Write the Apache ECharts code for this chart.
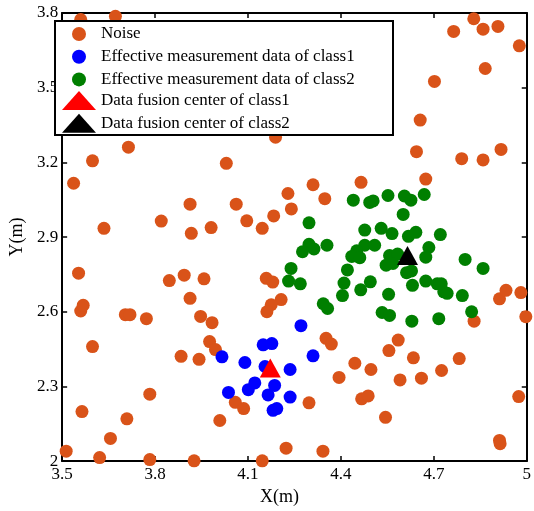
<!DOCTYPE html>
<html>
<head>
<meta charset="utf-8">
<script src="https://cdn.jsdelivr.net/npm/echarts@6/dist/echarts.min.js"></script>
<style>html,body{margin:0;padding:0;background:#fff;}#c{width:534px;height:511px;}</style>
</head>
<body>
<div id="c"></div>
<script>
const xTicks = [3.5, 3.8, 4.1, 4.4, 4.7, 5];
const yTicks = [2, 2.3, 2.6, 2.9, 3.2, 3.5, 3.8];
const seriesNames = ['Noise', 'Effective measurement data of class1', 'Effective measurement data of class2', 'Data fusion center of class1', 'Data fusion center of class2'];

const noise = [
  [3.560,3.774],[3.672,3.787],[4.764,3.726],[4.829,3.777],[4.859,3.735],[4.907,3.746],[4.976,3.668],[4.866,3.577],[4.702,3.525],[4.656,3.370],[4.189,3.301],[4.048,3.342],[3.714,3.261],[4.644,3.243],[4.917,3.252],[3.598,3.206],[4.030,3.196],[4.790,3.215],[4.859,3.210],
  [3.537,3.116],[3.635,2.935],[3.553,2.755],[3.560,2.603],[3.568,2.626],[3.820,2.964],[3.913,3.032],[3.917,2.915],[3.981,2.938],[4.062,3.032],[4.096,2.965],[4.146,2.935],[4.183,2.985],[4.229,3.075],[4.240,3.013],[4.310,3.110],[4.348,3.054],[4.465,3.120],[4.674,3.133],[3.846,2.725],[3.894,2.747],[3.958,2.732],[3.913,2.654],[4.159,2.734],[4.180,2.719],[4.207,2.649],[4.175,2.628],[4.161,2.600],[3.704,2.588],[3.719,2.588],[3.772,2.572],[3.947,2.581],[3.984,2.556],[4.912,2.652],[4.933,2.686],[4.981,2.677],[4.997,2.580],[4.830,2.562],
  [3.598,2.460],[3.884,2.421],[3.942,2.409],[3.976,2.480],[3.995,2.448],[4.352,2.493],[4.369,2.470],[4.445,2.393],[4.497,2.368],[4.394,2.336],[4.555,2.444],[4.585,2.486],[4.634,2.415],[4.591,2.326],[4.660,2.333],[4.725,2.364],[4.782,2.412],[4.974,2.259],[4.467,2.250],[4.488,2.262],[4.297,2.234],[4.544,2.176],[4.912,2.083],[4.914,2.070],[3.783,2.269],[3.564,2.199],[3.709,2.170],[3.656,2.091],[3.513,2.040],[3.621,2.014],[3.783,2.006],[3.926,2.001],[4.146,2.001],[4.009,2.163],[4.059,2.236],[4.086,2.211],[4.223,2.052],[4.342,2.040]
];

const class1 = [
  [4.271,2.544],[4.149,2.467],[4.177,2.472],[4.016,2.419],[4.090,2.396],[4.155,2.380],[4.310,2.423],[4.236,2.368],[4.122,2.314],[4.101,2.287],[4.186,2.304],[4.037,2.276],[4.165,2.266],[4.236,2.257],[4.181,2.204],[4.193,2.211]
];

const class2 = [
  [4.440,3.048],[4.493,3.039],[4.504,3.045],[4.552,3.067],[4.605,3.065],[4.626,3.048],[4.669,3.071],[4.601,2.991],[4.297,2.957],[4.477,2.928],[4.530,2.935],[4.565,2.914],[4.618,2.903],[4.642,2.919],[4.721,2.910],[4.355,2.867],[4.297,2.871],[4.313,2.852],[4.276,2.841],[4.477,2.867],[4.509,2.867],[4.451,2.845],[4.435,2.822],[4.461,2.817],[4.557,2.826],[4.583,2.832],[4.546,2.787],[4.568,2.794],[4.684,2.858],[4.674,2.819],[4.801,2.810],[4.859,2.774],[4.239,2.774],[4.421,2.768],[4.612,2.757],[4.628,2.764],[4.231,2.723],[4.269,2.712],[4.410,2.715],[4.495,2.720],[4.631,2.706],[4.674,2.723],[4.711,2.712],[4.724,2.712],[4.732,2.680],[4.743,2.674],[4.464,2.688],[4.554,2.670],[4.405,2.665],[4.792,2.665],[4.343,2.632],[4.357,2.613],[4.533,2.597],[4.557,2.585],[4.629,2.562],[4.716,2.572],[4.822,2.600]
];

const center1 = [[4.172,2.374]];
const center2 = [[4.615,2.826]];

const FONT = 'Liberation Serif';
const colors = ['#D95319', '#0000FF', '#007F00', '#FF0000', '#000000'];

const chart = echarts.init(document.getElementById('c'), null, {renderer: 'canvas'});

function xAxisCfg(pos, show) {
  return {
    type: 'value', position: pos, min: 3.5, max: 5, interval: 0.3,
    axisLine: {show: true, onZero: false, lineStyle: {color: '#000', width: 2}},
    axisTick: {show: true, inside: true, length: 5, lineStyle: {color: '#000', width: 1.5}},
    axisLabel: {show: show, color: '#000', fontFamily: FONT, fontSize: 17, margin: 5,
      formatter: v => { const t = xTicks.find(k => Math.abs(k - v) < 1e-6); return t === undefined ? '' : String(t); }},
    splitLine: {show: false},
    name: show ? 'X(m)' : '', nameLocation: 'middle', nameGap: 15,
    nameTextStyle: {color: '#000', fontFamily: FONT, fontSize: 18, padding: [0, 30, 0, 0]}
  };
}
function yAxisCfg(pos, show) {
  return {
    type: 'value', position: pos, min: 2, max: 3.8, interval: 0.3,
    axisLine: {show: true, onZero: false, lineStyle: {color: '#000', width: 2}},
    axisTick: {show: true, inside: true, length: 5, lineStyle: {color: '#000', width: 1.5}},
    axisLabel: {show: show, color: '#000', fontFamily: FONT, fontSize: 17, margin: 4,
      formatter: v => { const t = yTicks.find(k => Math.abs(k - v) < 1e-6); return t === undefined ? '' : String(t); }},
    splitLine: {show: false},
    name: show ? 'Y(m)' : '', nameLocation: 'middle', nameGap: 27,
    nameTextStyle: {color: '#000', fontFamily: FONT, fontSize: 18}
  };
}

const legendText = {color: '#000', fontFamily: FONT, fontSize: 17, lineHeight: 17};

chart.setOption({
  animation: false,
  backgroundColor: '#fff',
  grid: {left: 50, right: 2, top: 13, bottom: 32, containLabel: false},
  xAxis: [xAxisCfg('bottom', true), xAxisCfg('top', false)],
  yAxis: [yAxisCfg('left', true), yAxisCfg('right', false)],
  legend: [
    {
      data: seriesNames.slice(0, 3).map(n => ({name: n, icon: 'circle'})),
      orient: 'vertical', left: 72, top: 25.5, padding: 0,
      itemWidth: 34, itemHeight: 14, itemGap: 5.7,
      textStyle: legendText, z: 20, selectedMode: false
    },
    {
      data: seriesNames.slice(3).map(n => ({name: n, icon: 'triangle'})),
      orient: 'vertical', left: 62, top: 91, padding: 0,
      itemWidth: 34, itemHeight: 19, itemGap: 3.7,
      textStyle: legendText, z: 20, selectedMode: false
    }
  ],
  graphic: [{
    type: 'rect', left: 54, top: 20, z: 10,
    shape: {width: 338, height: 114},
    style: {fill: '#fff', stroke: '#000', lineWidth: 2}
  }],
  series: [
    {name: seriesNames[0], type: 'scatter', data: noise, symbol: 'circle', symbolSize: 13, itemStyle: {color: colors[0], opacity: 1}},
    {name: seriesNames[1], type: 'scatter', data: class1, symbol: 'circle', symbolSize: 13, itemStyle: {color: colors[1], opacity: 1}},
    {name: seriesNames[2], type: 'scatter', data: class2, symbol: 'circle', symbolSize: 13, itemStyle: {color: colors[2], opacity: 1}},
    {name: seriesNames[3], type: 'scatter', data: center1, symbol: 'triangle', symbolSize: [21, 19], itemStyle: {color: colors[3], opacity: 1}, z: 5},
    {name: seriesNames[4], type: 'scatter', data: center2, symbol: 'triangle', symbolSize: [21, 19], itemStyle: {color: colors[4], opacity: 1}, z: 5}
  ]
});
</script>
</body>
</html>
